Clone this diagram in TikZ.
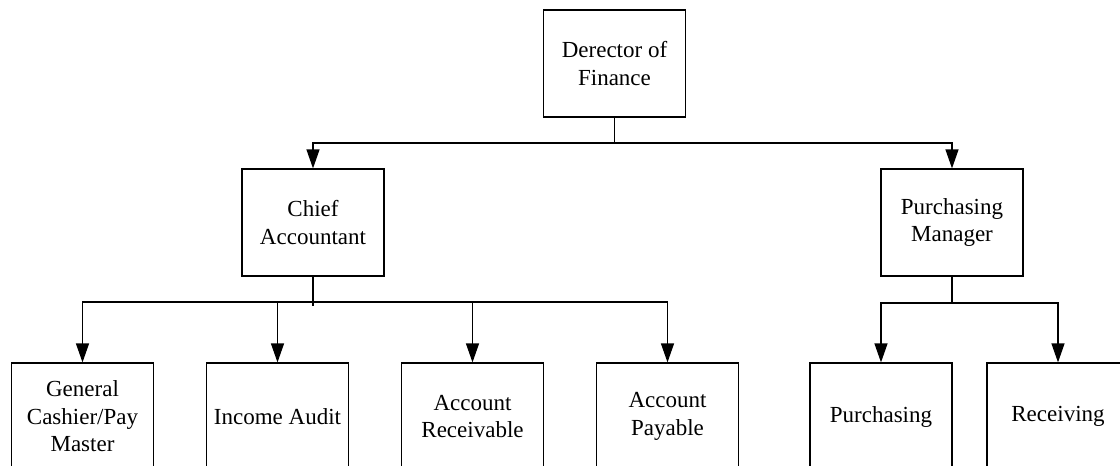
\documentclass[tikz,border=0pt]{standalone}
\usepackage{fontspec}
\setmainfont{Liberation Serif}
\usetikzlibrary{arrows.meta}
\tikzset{
  box/.style={draw, rectangle, line width=1.2pt, minimum width=142pt, minimum height=107pt,
    align=center, inner sep=2pt, font=\fontsize{23}{27.5}\selectfont},
  link/.style={line width=1.2pt},
  arr/.style={line width=1.2pt, -{Triangle[length=19pt,width=13pt]}}
}
\begin{document}
\begin{tikzpicture}[x=1pt,y=-1pt]
\useasboundingbox (0,0) rectangle (1120,466);
\clip (0,0) rectangle (1120,466);
\node[box] (dir) at (614.5,63.5) {Derector of\\Finance};
\node[box] (chief) at (313,222.5) {Chief\\Accountant};
\node[box] (pm) at (952,222.5) {Purchasing\\Manager};
\node[box] (gc) at (82.5,416.5) {General\\Cashier/Pay\\Master};
\node[box] (ia) at (277.5,416.5) {Income Audit};
\node[box] (ar) at (472.5,416.5) {Account\\Receivable};
\node[box] (ap) at (667.5,416.5) {Account\\Payable};
\node[box] (pur) at (881,416.5) {Purchasing};
\node[box] (rec) at (1058,416.5) {Receiving};
\coordinate (bus1) at (0,143);
\coordinate (bus2) at (0,302);
\coordinate (bus3) at (0,303);
% director
\draw[link] (dir.south) -- (dir.south |- bus1);
\draw[arr] (dir.south |- bus1) -| (chief.north);
\draw[arr] (dir.south |- bus1) -| (pm.north);
% chief accountant
\draw[link] (chief.south) -- ++(0,29);
\draw[arr] (chief.south |- bus2) -| (gc.north);
\draw[arr] (chief.south |- bus2) -| (ia.north);
\draw[arr] (chief.south |- bus2) -| (ar.north);
\draw[arr] (chief.south |- bus2) -| (ap.north);
% purchasing manager
\draw[link] (pm.south) -- (pm.south |- bus3);
\draw[arr] (pm.south |- bus3) -| (pur.north);
\draw[arr] (pm.south |- bus3) -| (rec.north);
\end{tikzpicture}
\end{document}
